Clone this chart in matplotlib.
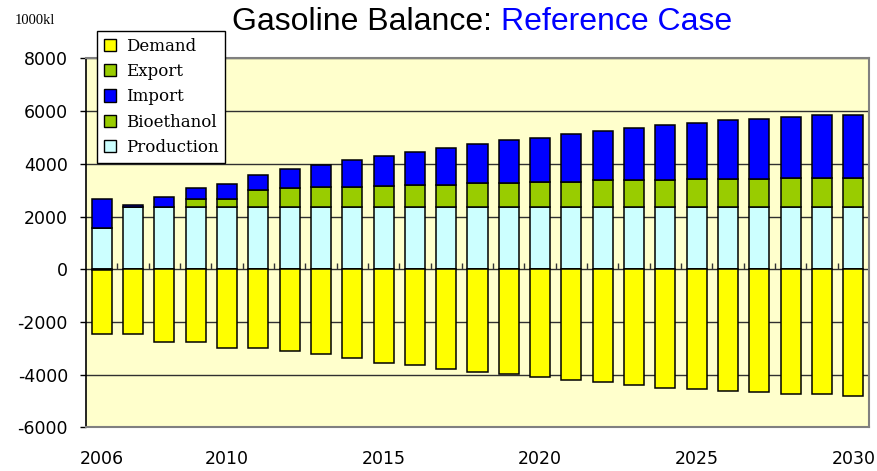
import matplotlib
matplotlib.use("Agg")
from matplotlib import pyplot as plt
from matplotlib.patches import Patch
import numpy as np

plt.rcParams["axes.unicode_minus"] = False

years = list(range(2006, 2031))
tick_years = [2006, 2010, 2015, 2020, 2025, 2030]

production = [1560] + [2380] * 24
bioethanol = [0, 0, 0, 281, 292, 634, 699, 743, 737, 786, 836, 836, 889,
              889, 938, 938, 995, 995, 995, 1052, 1052, 1052, 1102, 1102, 1102]
imports = [1113, 64, 357, 429, 570, 582, 722, 836, 1026, 1129, 1231, 1383, 1493,
           1634, 1684, 1836, 1881, 1984, 2083, 2128, 2231, 2280, 2280, 2382, 2382]
exports = [-40] + [0] * 24
demand = [-2420, -2460, -2775, -2775, -2980, -2980, -3080, -3220, -3370, -3535,
          -3625, -3777, -3890, -3980, -4090, -4195, -4280, -4385, -4485, -4550,
          -4600, -4650, -4740, -4740, -4790]

c_demand = "#FFFF00"
c_export = "#99CC00"
c_import = "#0000FF"
c_bio = "#99CC00"
c_prod = "#CCFFFF"

fig = plt.figure(figsize=(8.78, 4.71), dpi=100)
ax = fig.add_axes([0.098, 0.0924, 0.8917, 0.7834])
ax.set_facecolor("#FFFFCC")

x = np.arange(len(years))
w = 0.64
kw = dict(width=w, edgecolor="black", linewidth=1.1, zorder=3)

prod = np.array(production)
bio = np.array(bioethanol)
ax.bar(x, production, color=c_prod, **kw)
ax.bar(x, bioethanol, bottom=prod, color=c_bio, **kw)
ax.bar(x, imports, bottom=prod + bio, color=c_import, **kw)
ax.bar(x, exports, color=c_export, **kw)
ax.bar(x, demand, bottom=exports, color=c_demand, **kw)

ax.set_xlim(-0.5, len(years) - 0.5)
ax.set_ylim(-6000, 8000)
ax.set_yticks(range(-6000, 8001, 2000))
ax.yaxis.grid(True, color="#303030", linewidth=1.0, zorder=1)
ax.set_axisbelow(True)
ax.tick_params(axis="y", labelsize=12.5, length=4, width=1, direction="out", pad=9)

ax.set_xticks([years.index(y) for y in tick_years])
ax.set_xticklabels([str(y) for y in tick_years], fontsize=12.5)
ax.tick_params(axis="x", length=0, pad=16)

# small category ticks on the zero line
sec = ax.secondary_xaxis(6 / 14)
sec.set_xticks(x[:-1] + 0.5)
sec.tick_params(direction="in", length=4, width=1, labelbottom=False, colors="#333333")
for s in sec.spines.values():
    s.set_visible(False)

ax.spines["left"].set_color("black")
ax.spines["left"].set_linewidth(1.2)
for side in ["top", "right", "bottom"]:
    ax.spines[side].set_color("#808080")
    ax.spines[side].set_linewidth(1.5)

# title in two colours
base_y = 1 - 30 / 471
t1 = fig.text(232 / 878, base_y, "Gasoline Balance: ", fontsize=23,
              family="Liberation Sans", color="black", va="baseline")
fig.canvas.draw()
bb = t1.get_window_extent(renderer=fig.canvas.get_renderer())
fig.text(bb.x1 / fig.bbox.width, base_y, "Reference Case", fontsize=23,
         family="Liberation Sans", color="#0000FF", va="baseline")

fig.text(15 / 878, 1 - 24 / 471, "1000kl", fontsize=10.5,
         family="Liberation Serif", va="baseline")

handles = [Patch(facecolor=c_demand, edgecolor="black", label="Demand"),
           Patch(facecolor=c_export, edgecolor="black", label="Export"),
           Patch(facecolor=c_import, edgecolor="black", label="Import"),
           Patch(facecolor=c_bio, edgecolor="black", label="Bioethanol"),
           Patch(facecolor=c_prod, edgecolor="black", label="Production")]
leg = fig.legend(handles=handles, loc="upper left",
                 bbox_to_anchor=(97 / 878, 1 - 31 / 471),
                 prop={"family": "DejaVu Serif", "size": 12},
                 frameon=True, fancybox=False, edgecolor="black",
                 framealpha=1, handlelength=0.75, handleheight=0.75,
                 handletextpad=0.6, labelspacing=0.5, borderpad=0.4,
                 borderaxespad=0)
leg.get_frame().set_linewidth(1.0)

fig.savefig("out.png", dpi=100)
